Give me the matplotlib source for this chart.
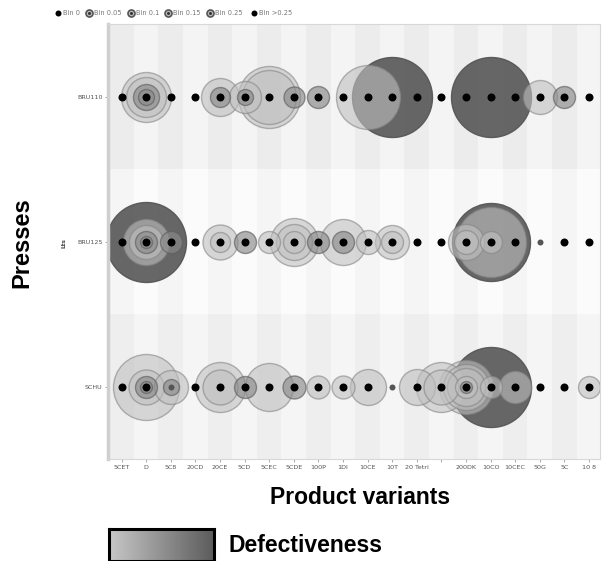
import matplotlib
matplotlib.use("Agg")
import matplotlib.pyplot as plt
import numpy as np

# ---------------- data ----------------
categories = ["5CET", "D", "5C8", "20CD", "20CE", "5CD", "5CEC", "5CDE", "100P", "1DI",
              "10CE", "10T", "20 Tetri", "", "200DK", "10CO", "10CEC", "50G", "5C", "10 8"]
presses = ["BRU110", "BRU125", "SCHU"]
legend_labels = ["Bin 0", "Bin 0.05", "Bin 0.1", "Bin 0.15", "Bin 0.25", "Bin >0.25"]

# bubbles: (category index, bubble radius value, defectiveness level 1..3)
bru110_bubbles = [(1, 25, 1), (1, 20, 1), (1, 13, 2), (1, 8, 2),
                  (4, 19, 1), (4, 10, 2),
                  (5, 16, 1), (5, 8, 2),
                  (6, 31, 1), (6, 27, 1),
                  (7, 10.5, 2), (8, 11, 2),
                  (10, 32, 1), (11, 40, 3), (15, 40, 3),
                  (17, 17, 1), (18, 11, 2)]
bru125_bubbles = [(1, 40, 3), (1, 23, 1), (1, 17, 1), (1, 11, 2), (1, 6, 2),
                  (2, 11, 2),
                  (4, 17.5, 1), (4, 10, 1),
                  (5, 11, 2), (6, 11, 1),
                  (7, 24, 1), (7, 18, 1), (7, 11, 1),
                  (8, 11, 2),
                  (9, 23, 1), (9, 11, 2),
                  (10, 12, 1),
                  (11, 17, 1), (11, 11, 1),
                  (14, 18, 1), (14, 12, 1),
                  (15, 39, 3), (15, 35, 1), (15, 11, 1)]
schu_bubbles = [(1, 33, 1), (1, 17.5, 1), (1, 11, 2), (1, 6, 2),
                (2, 17, 1), (2, 8, 2),
                (4, 25, 1), (4, 17.5, 1),
                (5, 11, 2), (6, 24, 1),
                (7, 11.5, 2), (8, 11.5, 1), (9, 11.5, 1),
                (10, 18, 1), (12, 18, 1),
                (13, 25, 1), (13, 17.5, 1),
                (14, 27, 1), (14, 23, 1), (14, 19, 1), (14, 11, 1), (14, 6, 2),
                (15, 40, 3), (15, 11, 1),
                (16, 16, 1), (19, 11, 1)]
# centre dots per category: 1 = black (Bin 0), 2 = small grey
bru110_dots = [1] * 20
bru125_dots = [1] * 17 + [2] + [1] * 2
schu_dots = [1, 1, 2] + [1] * 8 + [2] + [1] * 8

bubbles_by_press = [bru110_bubbles, bru125_bubbles, schu_bubbles]
dots_by_press = [bru110_dots, bru125_dots, schu_dots]

# ---------------- styles ----------------
FILL = {1: "#c0c0c0", 2: "#8a8a8a", 3: "#5a5a5a"}
ALPHA = {1: 0.6, 2: 0.65, 3: 0.92}
EDGE = {1: "#858585", 2: "#5f5f5f", 3: "#555555"}
PX2PT = 0.72

W, H = 602, 561
fig = plt.figure(figsize=(W / 100, H / 100), dpi=100)
ax = fig.add_axes([108 / W, 1 - 459 / H, (600 - 108) / W, (459 - 24) / H])
ax.set_xlim(-0.55, 19.45)
ax.set_ylim(2.5, -0.5)

# striped background
row_cols = [("#ececec", "#f4f4f4"), ("#f5f5f5", "#fbfbfb"), ("#eeeeee", "#f5f5f5")]
for r in range(3):
    for i in range(len(categories)):
        c = row_cols[r][i % 2]
        ax.add_patch(plt.Rectangle((i - 0.5, r - 0.5), 1, 1, facecolor=c, edgecolor="none", zorder=0))

for r, (bubbles, dots) in enumerate(zip(bubbles_by_press, dots_by_press)):
    for (ci, rad, lvl) in sorted(bubbles, key=lambda b: -b[1]):
        ax.scatter([ci], [r], s=(2 * rad * PX2PT) ** 2, facecolor=FILL[lvl], alpha=ALPHA[lvl],
                   edgecolor=EDGE[lvl], linewidth=1.0, zorder=2)
    for ci, d in enumerate(dots):
        if d == 1:
            ax.scatter([ci], [r], s=(8 * PX2PT) ** 2, color="black", zorder=5, linewidth=0)
        else:
            ax.scatter([ci], [r], s=(6 * PX2PT) ** 2, color="#555555", zorder=5, linewidth=0)

ax.set_xticks(range(len(categories)))
ax.set_xticklabels(categories, fontsize=4.6, color="#555555")
ax.set_yticks(range(3))
ax.set_yticklabels(presses, fontsize=4.6, color="#555555")
ax.tick_params(axis="both", length=2, width=0.6, color="#999999", pad=2)
for s in ax.spines.values():
    s.set_color("#d8d8d8")
    s.set_linewidth(0.8)
ax.spines["left"].set_linewidth(2.5)
ax.spines["left"].set_color("#cfcfcf")

# overlay in pixel coordinates
ov = fig.add_axes([0, 0, 1, 1], zorder=10)
ov.set_xlim(0, W)
ov.set_ylim(H, 0)
ov.axis("off")

# top legend
leg_x = [58, 89, 131, 168, 210, 254]
for k, (lx, lab) in enumerate(zip(leg_x, legend_labels)):
    if k in (0, 5):
        ov.scatter([lx], [13], s=(6 * PX2PT) ** 2, color="black", linewidth=0)
    else:
        ov.scatter([lx], [13], s=(7 * PX2PT) ** 2, facecolor="#bdbdbd", edgecolor="#555555", linewidth=1.2)
        ov.scatter([lx], [13], s=(3 * PX2PT) ** 2, color="#333333", linewidth=0)
    ov.text(lx + 5, 13, lab, fontsize=4.8, color="#777777", va="center", ha="left")

ov.text(64, 243, "Lts", fontsize=4.2, color="#444444", rotation=90, va="center", ha="center", fontweight="bold")

bold = dict(family=["Liberation Sans", "DejaVu Sans"], fontweight="bold", color="black")
ov.text(22, 243, "Presses", fontsize=17, rotation=90, va="center", ha="center", **bold)
ov.text(360, 497, "Product variants", fontsize=16.5, va="center", ha="center", **bold)
ov.text(228, 546, "Defectiveness", fontsize=16.5, va="center", ha="left", **bold)

# gradient key
gax = fig.add_axes([109 / W, 0, (214 - 109) / W, (561 - 529) / H], zorder=11)
grad = np.linspace(0.78, 0.36, 256)[None, :]
gax.imshow(np.repeat(grad, 2, axis=0), cmap="gray", vmin=0, vmax=1, aspect="auto")
gax.set_xticks([])
gax.set_yticks([])
for s in gax.spines.values():
    s.set_color("black")
    s.set_linewidth(2.2)

fig.savefig("out.png", dpi=100)
